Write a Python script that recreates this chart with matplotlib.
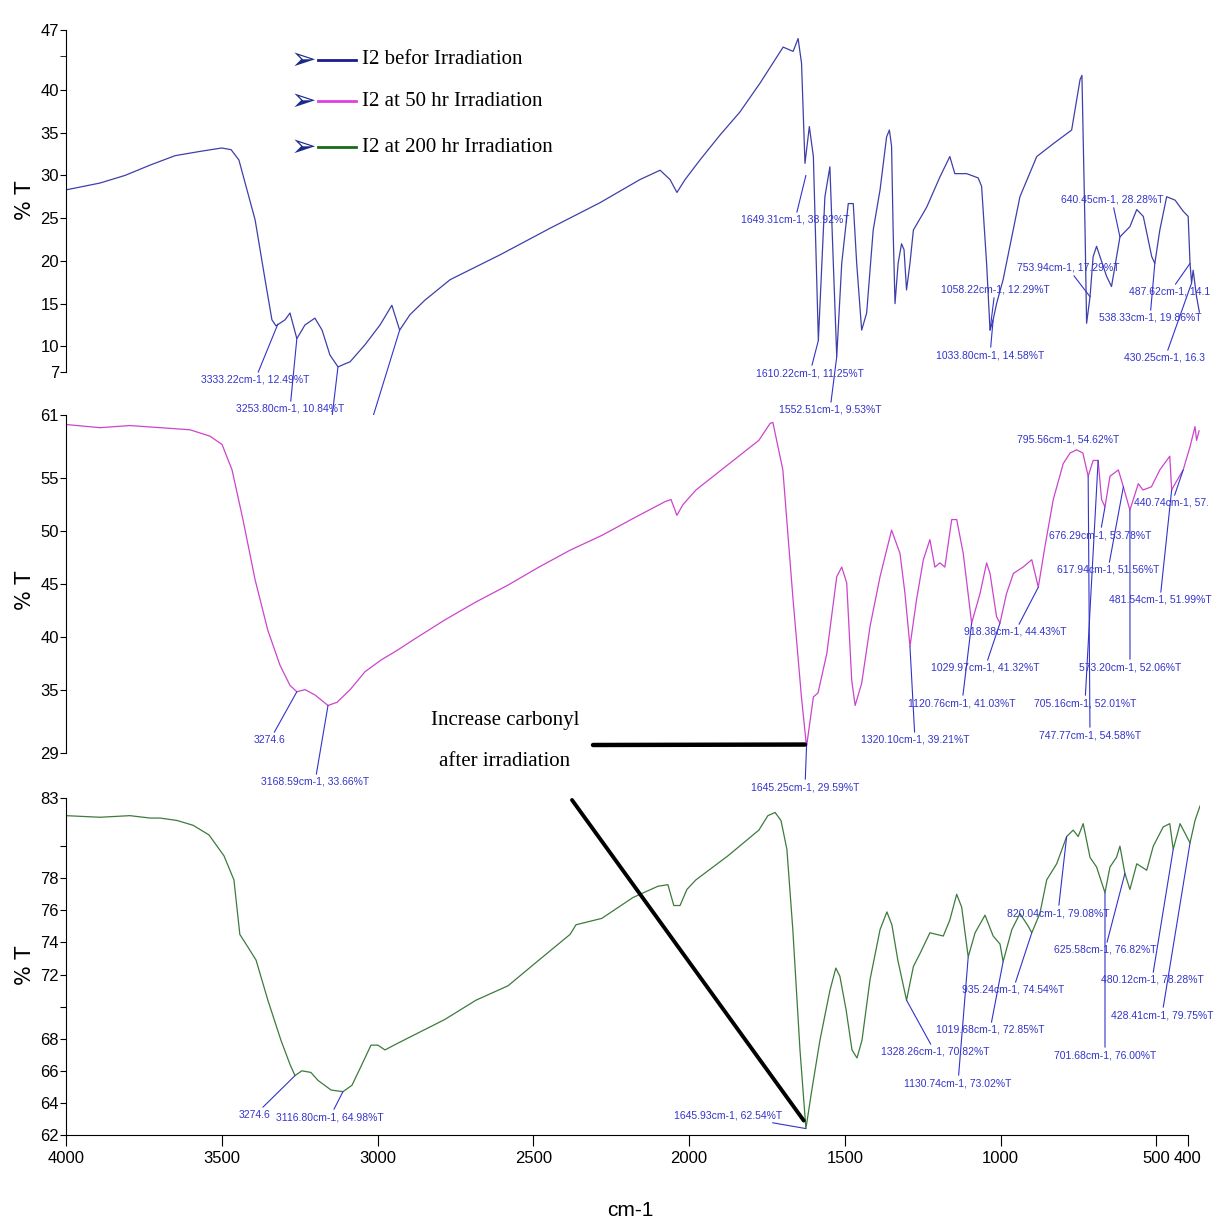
import matplotlib.pyplot as plt
from matplotlib.patches import ConnectionPatch

# ---- data ----
wn_before = [4000, 3891, 3810, 3730, 3650, 3570, 3500, 3470, 3445, 3393, 3361, 3339, 3326, 3297, 3281,
             3259, 3233, 3201, 3178, 3153, 3127, 3088, 3040, 2992, 2954, 2929, 2896, 2848, 2767, 2607,
             2447, 2286, 2158, 2093, 2061, 2039, 2013, 1965, 1901, 1837, 1772, 1698, 1666, 1650, 1639,
             1628, 1614, 1601, 1585, 1564, 1548, 1537, 1526, 1510, 1489, 1473, 1462, 1446, 1430, 1409,
             1387, 1366, 1357, 1350, 1345, 1339, 1329, 1318, 1310, 1302, 1291, 1280, 1237, 1195, 1163,
             1147, 1109, 1072, 1061, 1045, 1034, 1024, 1013, 992, 938, 884, 831, 772, 745, 739,
             729, 724, 713, 703, 692, 660, 644, 617, 585, 563, 542, 515, 505, 489, 467,
             440, 414, 398, 392, 387, 382, 371, 362]
t_before = [28.3, 29.1, 30.0, 31.2, 32.3, 32.8, 33.2, 33.0, 31.8, 24.8, 17.8, 13.1, 12.4, 13.1, 13.9,
            10.9, 12.5, 13.3, 11.9, 9.0, 7.6, 8.2, 10.2, 12.5, 14.8, 11.9, 13.7, 15.4, 17.8, 20.7,
            23.8, 26.8, 29.5, 30.6, 29.5, 28.0, 29.5, 31.8, 34.7, 37.4, 40.8, 45.0, 44.5, 46.0, 43.1,
            31.4, 35.7, 32.2, 10.7, 27.5, 31.0, 19.7, 8.8, 19.7, 26.7, 26.7, 19.7, 11.9, 13.9, 23.6,
            28.3, 34.5, 35.3, 33.4, 23.6, 15.0, 19.7, 22.0, 21.3, 16.6, 19.7, 23.6, 26.3, 29.8, 32.2,
            30.2, 30.2, 29.7, 28.7, 19.7, 11.9, 13.1, 15.0, 17.8, 27.5, 32.2, 33.7, 35.3, 41.2, 41.7,
            23.6, 12.7, 15.8, 20.5, 21.7, 18.2, 17.0, 22.8, 24.0, 26.0, 25.2, 20.5, 19.7, 23.6, 27.5,
            27.1, 25.8, 25.2, 19.7, 17.4, 18.9, 15.8, 14.0]

wn_50hr = [4000, 3891, 3795, 3698, 3602, 3538, 3499, 3467, 3432, 3393, 3352, 3313, 3281, 3259, 3233,
           3201, 3159, 3130, 3088, 3040, 2989, 2938, 2886, 2784, 2684, 2581, 2482, 2382, 2280, 2180,
           2077, 2058, 2039, 2020, 1978, 1875, 1776, 1740, 1731, 1699, 1667, 1639, 1623, 1601, 1586,
           1558, 1526, 1510, 1494, 1478, 1467, 1446, 1419, 1387, 1350, 1323, 1307, 1291, 1270, 1248,
           1227, 1211, 1195, 1179, 1157, 1141, 1120, 1093, 1066, 1045, 1034, 1013, 1002, 981, 959,
           928, 900, 879, 858, 831, 799, 777, 756, 736, 719, 703, 687, 676, 665, 649,
           622, 606, 585, 558, 543, 516, 489, 457, 451, 434, 414, 392, 376, 371, 363]
t_50hr = [60.1, 59.8, 60.0, 59.8, 59.6, 59.0, 58.2, 55.8, 51.1, 45.4, 40.6, 37.3, 35.4, 34.8, 35.0,
          34.5, 33.5, 33.8, 35.0, 36.7, 37.8, 38.7, 39.7, 41.6, 43.3, 44.9, 46.6, 48.2, 49.6, 51.2,
          52.8, 53.0, 51.5, 52.5, 53.9, 56.3, 58.6, 60.2, 60.3, 55.8, 43.8, 34.2, 29.6, 34.3, 34.7,
          38.4, 45.7, 46.6, 45.1, 35.9, 33.5, 35.6, 41.0, 45.7, 50.1, 47.9, 44.1, 39.1, 43.5, 47.3,
          49.2, 46.6, 47.0, 46.6, 51.1, 51.1, 47.9, 41.3, 44.1, 47.0, 46.0, 41.9, 41.3, 44.1, 46.0,
          46.6, 47.3, 44.7, 48.5, 53.0, 56.4, 57.4, 57.7, 57.4, 55.2, 56.7, 56.7, 53.0, 52.3, 55.2,
          55.8, 54.2, 52.0, 54.5, 53.9, 54.2, 55.8, 57.1, 53.9, 54.8, 55.8, 58.0, 59.9, 58.6, 59.5]

wn_200hr = [4000, 3891, 3795, 3730, 3698, 3644, 3592, 3541, 3493, 3461, 3442, 3419, 3390, 3352, 3310,
            3281, 3265, 3243, 3214, 3191, 3149, 3111, 3082, 3050, 3021, 2999, 2976, 2947, 2886, 2784,
            2684, 2581, 2482, 2382, 2363, 2280, 2180, 2100, 2068, 2049, 2029, 2007, 1978, 1875, 1776,
            1747, 1724, 1705, 1686, 1667, 1644, 1625, 1606, 1580, 1548, 1529, 1516, 1496, 1477, 1461,
            1445, 1419, 1387, 1365, 1349, 1330, 1302, 1280, 1259, 1227, 1184, 1163, 1141, 1125, 1104,
            1082, 1050, 1024, 1002, 992, 964, 938, 911, 900, 874, 852, 820, 788, 767, 751,
            735, 713, 692, 665, 649, 628, 617, 601, 585, 563, 531, 510, 478, 457, 446,
            424, 392, 376, 360]
t_200hr = [81.9, 81.8, 81.9, 81.75, 81.75, 81.6, 81.3, 80.7, 79.4, 77.9, 74.5, 73.8, 72.9, 70.4, 67.9,
           66.4, 65.7, 66.0, 65.9, 65.4, 64.8, 64.7, 65.1, 66.4, 67.6, 67.6, 67.3, 67.6, 68.2, 69.2,
           70.4, 71.3, 72.9, 74.5, 75.1, 75.5, 76.8, 77.5, 77.6, 76.3, 76.3, 77.3, 77.9, 79.4, 81.0,
           81.9, 82.1, 81.6, 79.8, 74.8, 67.3, 62.4, 64.8, 67.9, 71.0, 72.4, 71.9, 69.8, 67.3, 66.8,
           67.9, 71.7, 74.8, 75.9, 75.1, 72.9, 70.4, 72.5, 73.3, 74.6, 74.4, 75.4, 77.0, 76.2, 73.1,
           74.6, 75.7, 74.4, 73.9, 72.8, 74.8, 75.8, 75.0, 74.6, 75.8, 77.9, 78.9, 80.6, 81.0, 80.6,
           81.4, 79.3, 78.7, 77.1, 78.7, 79.3, 80.0, 78.3, 77.3, 78.9, 78.5, 80.0, 81.2, 81.4, 79.8,
           81.4, 80.2, 81.6, 82.5]

series_labels = ['I2 befor Irradiation', 'I2 at 50 hr Irradiation', 'I2 at 200 hr Irradiation']
xtick_vals = [4000, 3500, 3000, 2500, 2000, 1500, 1000, 500, 400]
yticks_top = [7, 10, 15, 20, 25, 30, 35, 40, 47]
yticks_mid = [29, 35, 40, 45, 50, 55, 61]
yticks_bot = [62, 64, 66, 68, 70, 72, 74, 76, 78, 80, 83]
ylabels_bot = ['62', '64', '66', '68', '', '72', '74', '76', '78', '', '83']

# peak labels: (text, wavenumber, %T)
peaks_top = [('3333.22cm-1, 12.49%T', 3320, 12.6), ('3253.80cm-1, 10.84%T', 3259, 10.9),
             ('3136.73cm-1, 7.65%T', 3127, 7.6), ('2929.04cm-1, 11.89%T', 2929, 11.9),
             ('1649.31cm-1, 38.92%T', 1625, 30.0), ('1610.22cm-1, 11.25%T', 1585, 10.7),
             ('1552.51cm-1, 9.53%T', 1526, 8.8), ('1058.22cm-1, 12.29%T', 1034, 11.9),
             ('1033.80cm-1, 14.58%T', 1024, 13.1), ('753.94cm-1, 17.29%T', 713, 15.8),
             ('640.45cm-1, 28.28%T', 617, 22.8), ('538.33cm-1, 19.86%T', 505, 19.7),
             ('487.62cm-1, 14.1', 392, 19.7), ('430.25cm-1, 16.3', 387, 17.4)]
peaks_mid = [('3274.6', 3259, 34.8), ('3168.59cm-1, 33.66%T', 3159, 33.5),
             ('1645.25cm-1, 29.59%T', 1623, 29.6), ('1320.10cm-1, 39.21%T', 1291, 39.1),
             ('1120.76cm-1, 41.03%T', 1093, 41.3), ('1029.97cm-1, 41.32%T', 1002, 41.3),
             ('918.38cm-1, 44.43%T', 879, 44.7), ('795.56cm-1, 54.62%T', None, None),
             ('676.29cm-1, 53.78%T', 665, 52.3), ('617.94cm-1, 51.56%T', 606, 54.2),
             ('440.74cm-1, 57.', 414, 55.8), ('481.54cm-1, 51.99%T', 451, 53.9),
             ('573.20cm-1, 52.06%T', 585, 52.0), ('705.16cm-1, 52.01%T', 687, 56.7),
             ('747.77cm-1, 54.58%T', 719, 55.2)]
peaks_bot = [('3274.6', 3265, 65.7), ('3116.80cm-1, 64.98%T', 3111, 64.7),
             ('1645.93cm-1, 62.54%T', 1625, 62.4), ('1328.26cm-1, 70.82%T', 1302, 70.4),
             ('1130.74cm-1, 73.02%T', 1104, 73.1), ('1019.68cm-1, 72.85%T', 992, 72.8),
             ('935.24cm-1, 74.54%T', 900, 74.6), ('820.04cm-1, 79.08%T', 788, 80.6),
             ('625.58cm-1, 76.82%T', 601, 78.3), ('701.68cm-1, 76.00%T', 665, 77.1),
             ('480.12cm-1, 78.28%T', 446, 79.8), ('428.41cm-1, 79.75%T', 392, 80.2)]

# where each label text sits (pixels in the 1215x1227 picture)
pos_top = [(255, 380), (290, 409), (330, 434), (355, 475), (795, 220), (810, 373), (830, 410),
           (995, 290), (990, 355), (1068, 268), (1112, 200), (1150, 318), (1170, 292), (1165, 358)]
pos_mid = [(270, 740), (315, 782), (805, 787), (915, 740), (962, 703), (985, 668), (1015, 632),
           (1068, 440), (1100, 535), (1108, 570), (1172, 503), (1160, 600), (1130, 667), (1085, 703),
           (1090, 735)]
pos_bot = [(255, 1115), (330, 1117), (728, 1115), (935, 1052), (958, 1083), (990, 1030), (1013, 990),
           (1058, 913), (1105, 950), (1105, 1055), (1152, 980), (1162, 1015)]

W, H = 1215, 1227
narrow = ['Liberation Sans', 'DejaVu Sans']
serif = ['Liberation Serif', 'DejaVu Serif']
lab_color = '#3333cc'
colors = ['#3f3faa', '#cc44cc', '#3d7a3d']
legend_colors = ['#1c1c8c', '#e040e0', '#1a6a1a']


def fp(x, y):
    return x / W, 1 - y / H


fig = plt.figure(figsize=(12.15, 12.27), dpi=100)
ax1 = fig.add_axes([66 / W, 1 - 372 / H, 1134 / W, 342 / H])
ax2 = fig.add_axes([66 / W, 1 - 753 / H, 1134 / W, 338 / H])
ax3 = fig.add_axes([66 / W, 1 - 1135 / H, 1134 / W, 337 / H])

ax1.plot(wn_before, t_before, color=colors[0], lw=0.9)
ax2.plot(wn_50hr, t_50hr, color=colors[1], lw=0.9)
ax3.plot(wn_200hr, t_200hr, color=colors[2], lw=0.9)

for ax, lim, ticks in [(ax1, (7, 47), yticks_top), (ax2, (29, 61), yticks_mid), (ax3, (62, 83), yticks_bot)]:
    ax.set_xlim(4000, 360)
    ax.set_ylim(*lim)
    ax.set_yticks(ticks)
    ax.spines['top'].set_visible(False)
    ax.spines['right'].set_visible(False)
    ax.tick_params(axis='y', direction='out', length=4, labelsize=12, pad=1)
    for t in ax.get_yticklabels():
        t.set_family(narrow)

ax3.set_yticklabels(ylabels_bot, family=narrow)
ax1.set_yticks([44], minor=True)
ax1.tick_params(axis='y', which='minor', length=4)

for ax in (ax1, ax2):
    ax.spines['bottom'].set_visible(False)
    ax.set_xticks([])

ax3.spines['bottom'].set_bounds(4000, 400)
ax3.set_xticks(xtick_vals)
ax3.set_xticklabels([str(v) for v in xtick_vals], family=narrow)
ax3.tick_params(axis='x', direction='out', length=8, labelsize=12)

for yc in (200, 590, 965):
    fig.text(*fp(25, yc), '% T', rotation=90, fontsize=15, ha='center', va='center')
fig.text(*fp(630, 1210), 'cm-1', fontsize=15, family=narrow, ha='center', va='center')

# peak labels with leader lines
for ax, peaks, pos in [(ax1, peaks_top, pos_top), (ax2, peaks_mid, pos_mid), (ax3, peaks_bot, pos_bot)]:
    for (txt, x, y), (px, py) in zip(peaks, pos):
        if x is None:
            fig.text(*fp(px, py), txt, color=lab_color, fontsize=7.5, family=narrow,
                     ha='center', va='center')
            continue
        ax.annotate(txt, xy=(x, y), xytext=fp(px, py), textcoords='figure fraction',
                    color=lab_color, fontsize=7.5, family=narrow, ha='center', va='center',
                    arrowprops=dict(arrowstyle='-', color=lab_color, lw=0.8, shrinkA=0, shrinkB=0))

# legend
for i, (lab, row) in enumerate(zip(series_labels, [60, 101, 147])):
    fig.text(*fp(303, row), '\u27a2', color='#1a2a8a', fontsize=22, ha='center', va='center',
             family=['DejaVu Sans'], fontweight='bold')
    x0, y0 = fp(318, row)
    x1, _ = fp(356, row)
    fig.add_artist(plt.Line2D([x0, x1], [y0, y0], color=legend_colors[i], lw=2))
    fig.text(*fp(362, row), lab, fontsize=15, family=serif, ha='left', va='center')

# carbonyl note
fig.text(*fp(505, 720), 'Increase carbonyl', fontsize=15, family=serif, ha='center', va='center')
fig.text(*fp(505, 762), 'after irradiation', fontsize=15, family=serif, ha='center', va='center')
fig.add_artist(ConnectionPatch(xyA=fp(593, 745), coordsA='figure fraction',
                               xyB=(1628, 29.8), coordsB=ax2.transData, color='black', lw=3.2))
fig.add_artist(ConnectionPatch(xyA=fp(572, 800), coordsA='figure fraction',
                               xyB=(1632, 62.9), coordsB=ax3.transData, color='black', lw=2.8))

plt.savefig('out.png', dpi=100)
